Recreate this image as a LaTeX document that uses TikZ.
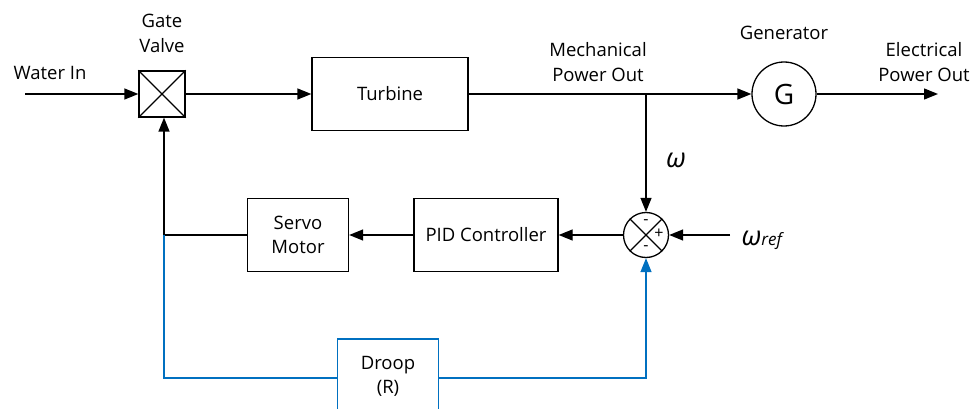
\documentclass[tikz,border=0pt]{standalone}
\usepackage{fontspec}
\setmainfont{Open Sans}
\usetikzlibrary{arrows.meta}
\definecolor{blu}{HTML}{0070C0}
\begin{document}
\begin{tikzpicture}[x=1pt,y=-1pt,line width=1.3pt,
  blk/.style={draw,rectangle,inner sep=0pt,align=center,font=\fontsize{18.5}{24}\selectfont},
  lbl/.style={align=center,inner sep=0pt,font=\fontsize{18.5}{25}\selectfont},
  arr/.style={-{Triangle[length=14pt,width=11pt]}},
  sgn/.style={inner sep=0pt,font=\fontsize{16}{16}\selectfont}]
\useasboundingbox (0,0) rectangle (974,409);
% Gate valve
\node[draw,minimum size=46pt,inner sep=0pt] (gv) at (162,94) {};
\draw (gv.north west) -- (gv.south east) (gv.north east) -- (gv.south west);
\node[lbl] (gvl) at (162,33) {Gate\\Valve};
% Water in
\node[lbl] (win) at (50,73) {Water In};
\coordinate (ws) at (25,94);
\draw[arr] (ws) -- (gv.west);
% Turbine
\node[blk,minimum width=156pt,minimum height=73pt] (tur) at (390,94) {Turbine};
\draw[arr] (gv.east) -- (tur.west);
% Generator
\node[draw,circle,minimum size=64pt,inner sep=0pt,font=\fontsize{28}{28}\selectfont] (gen) at (784,94) {G};
\node[lbl] (genl) at (784,33) {Generator};
\coordinate (jn) at (646,94);
\draw[arr] (tur.east) -- (gen.west);
\node[lbl] (mpo) at (598,62) {Mechanical\\Power Out};
\node[lbl] (epo) at (924,62) {Electrical\\Power Out};
\coordinate (eo) at (938,94);
\draw[arr] (gen.east) -- (eo);
% Summing junction
\node[draw,circle,minimum size=45pt,inner sep=0pt] (sum) at (646,235) {};
\draw (sum.north west) -- (sum.south east) (sum.north east) -- (sum.south west);
\node[sgn] (sm1) at (646,222) {-};
\node[sgn] (sp) at (659,234) {+};
\node[sgn] (sm2) at (646,248) {-};
\draw[arr] (jn) -- (sum.north);
\node[inner sep=0pt,font=\fontsize{27}{27}\selectfont\itshape] (om) at (676,160) {ω};
\node[inner sep=0pt,anchor=base west] (omr) at (741,245) {{\fontsize{27}{27}\selectfont\itshape ω}{\fontsize{17}{17}\selectfont\itshape ref}};
\coordinate (rs) at (730,235);
\draw[arr] (rs) -- (sum.east);
% PID, Servo
\node[blk,minimum width=144pt,minimum height=73pt] (pid) at (486,235) {PID Controller};
\node[blk,minimum width=101pt,minimum height=73pt] (srv) at (298,235) {Servo\\Motor};
\draw[arr] (sum.west) -- (pid.east);
\draw[arr] (pid.west) -- (srv.east);
\coordinate (c1) at (164,235);
\draw (srv.west) -- (c1);
\draw[arr] (c1) -- (gv.south -| c1);
% Droop
\node[blk,draw=blu,minimum width=101pt,minimum height=74pt] (dr) at (388,376) {Droop\\(R)};
\coordinate (c2) at (164,378);
\coordinate (c3) at (646,378);
\draw[blu] (c1) -- (c2) -- (dr.west |- c2);
\draw[blu,arr] (dr.east |- c3) -- (c3) -- (sum.south);
\end{tikzpicture}
\end{document}
